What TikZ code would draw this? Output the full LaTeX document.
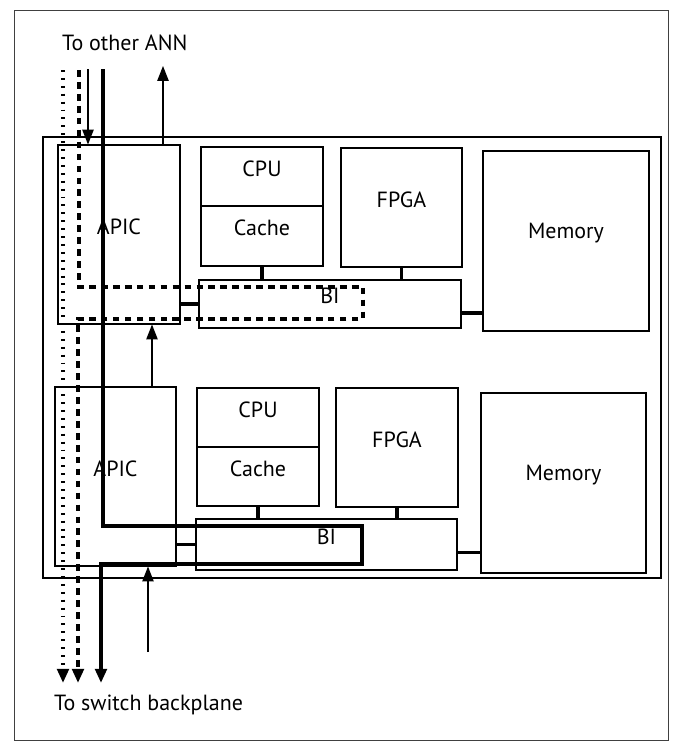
\documentclass[tikz,border=0pt]{standalone}
\usepackage{fontspec}
\setmainfont{PT Sans}
\usetikzlibrary{arrows.meta, positioning, fit, calc}
\tikzstyle{box} = [rectangle, draw, inner sep=0pt, line width=0.6pt, font=\fontsize{12.5}{14}\selectfont]
\tikzstyle{bus} = [line width=2.2pt]
\tikzstyle{sig} = [line width=0.7pt, -{Triangle[length=8.5pt,width=6.5pt]}]
\tikzstyle{fastpath} = [line width=2.4pt, -{Triangle[length=8pt,width=6.5pt]}]
\tikzstyle{slowpath} = [line width=2.4pt, dash pattern=on 3.8pt off 3pt, -{Triangle[length=8pt,width=6.5pt]}]
\tikzstyle{ctlpath} = [line width=2pt, dash pattern=on 1.1pt off 3.4pt, -{Triangle[length=8pt,width=6.5pt]}]

\begin{document}
\begin{tikzpicture}[x=0.02cm, y=-0.02cm]
        \useasboundingbox (0,0) rectangle (674,748);
        \draw [black!75, line width=0.5pt] (14,10) rectangle (668,740);

        % Board
        \node (board) [box, fit={(43,137) (661,578)}] {};

        % Upper node
        \node (apicA) [box, fit={(58,145) (180,324)}] {APIC};
        \node (cpuA) [box, fit={(201,147) (323,206)}] {CPU};
        \node (cacheA) [box, fit={(201,206) (323,266)}] {Cache};
        \node (fpgaA) [box, fit={(341,148) (462,267)}] {FPGA};
        \node (biA) [box, fit={(199,280) (461,328)}] {BI};
        \node (memA) [box, fit={(483,151) (649,331)}] {Memory};

        % Lower node
        \node (apicB) [box, fit={(55,387) (176,566)}] {APIC};
        \node (cpuB) [box, fit={(197,388) (319,447)}] {CPU};
        \node (cacheB) [box, fit={(197,447) (319,506)}] {Cache};
        \node (fpgaB) [box, fit={(336,388) (458,507)}] {FPGA};
        \node (biB) [box, fit={(196,519) (457,570)}] {BI};
        \node (memB) [box, fit={(481,393) (646,573)}] {Memory};

        % Bus links
        \draw [bus] (cacheA.south) -- (cacheA.south |- biA.north);
        \draw [bus] (fpgaA.south) -- (fpgaA.south |- biA.north);
        \draw [bus] (biA.west) -- (biA.west -| apicA.east);
        \draw [bus] ([yshift=-0.18cm]biA.east) -- ([yshift=-0.18cm]biA.east -| memA.west);
        \draw [bus] (cacheB.south) -- (cacheB.south |- biB.north);
        \draw [bus] (fpgaB.south) -- (fpgaB.south |- biB.north);
        \draw [bus] (biB.west) -- (biB.west -| apicB.east);
        \draw [bus] ([yshift=-0.16cm]biB.east) -- ([yshift=-0.16cm]biB.east -| memB.west);

        % Outside ends
        \node (ann) [font=\fontsize{12.5}{14}\selectfont, anchor=west] at (56,43) {To other ANN};
        \node (backplane) [font=\fontsize{12.5}{14}\selectfont, anchor=west] at (48,705) {To switch backplane};
        \coordinate (annIn) at (88,69);
        \coordinate (annOut) at (163,66);
        \coordinate (bkIn) at (148,652);

        % Signal arrows
        \draw [sig] (annIn) -- (annIn |- apicA.north);
        \draw [sig] (annOut |- apicA.north) -- (annOut);
        \draw [sig] (apicB.north -| 152,0) -- (apicA.south -| 152,0);
        \draw [sig] (bkIn) -- (bkIn |- apicB.south);

        % Data paths
        \coordinate (ctlTop) at (63,70);
        \coordinate (ctlEnd) at (63,683);
        \coordinate (slowTop) at (79,70);
        \coordinate (slowEnd) at (78,683);
        \coordinate (fastTop) at (103,69);
        \coordinate (fastEnd) at (101,683);
        \draw [ctlpath] (ctlTop) -- (ctlEnd);
        \draw [slowpath] (slowTop) |- (363,287) |- (78,319) -- (slowEnd);
        \draw [fastpath] (fastTop) |- (362,526) |- (101,564) -- (fastEnd);
    \end{tikzpicture}
\end{document}
